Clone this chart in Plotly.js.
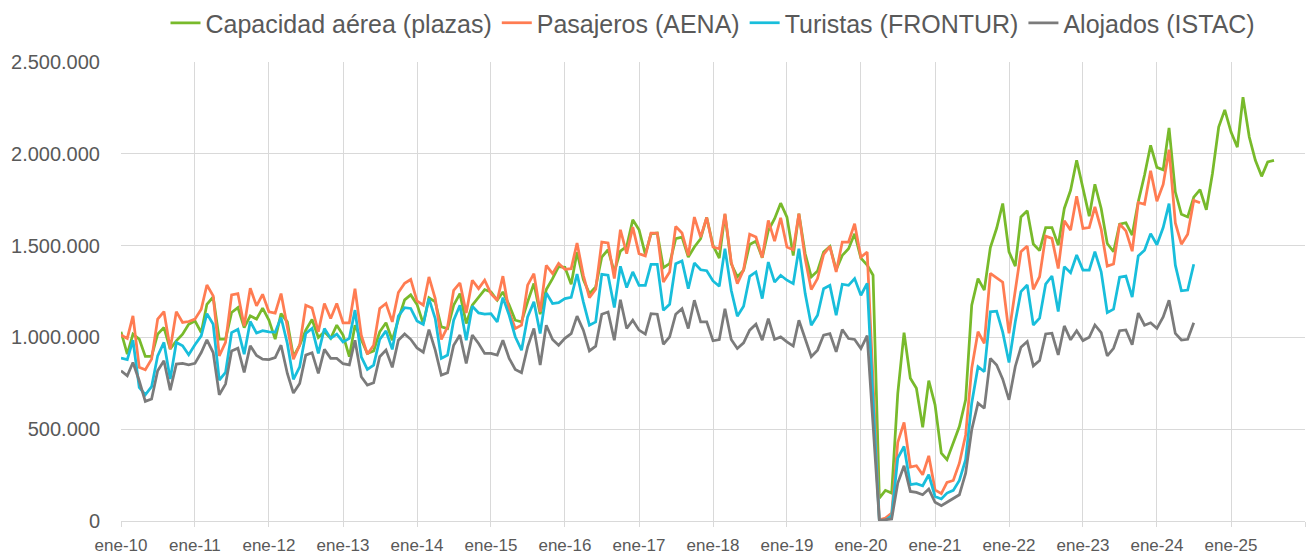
<!DOCTYPE html>
<html>
<head>
<meta charset="utf-8">
<script src="https://cdn.plot.ly/plotly-3.0.1.min.js"></script>
<style>
html,body{margin:0;padding:0;background:#fff;}
#chart{width:1306px;height:555px;}
</style>
</head>
<body>
<div id="chart"></div>
<script>
// Values in thousands (miles), monthly from ene-2010
const UNIT = 1000;
const startYear = 2010;

const seriesNames = ["Capacidad aérea (plazas)", "Pasajeros (AENA)", "Turistas (FRONTUR)", "Alojados (ISTAC)"];

const capacidad = [
  1031, 909, 1018, 991, 897, 897, 1018, 1054, 937, 982, 1018, 1072,
  1090, 1027, 1181, 1221, 991, 991, 1136, 1163, 1054, 1118, 1100, 1160,
  1095, 991, 1130, 1085, 895, 958, 1040, 1098, 1000, 1031, 995, 1067,
  1013, 895, 1067, 985, 913, 927, 1031, 1080, 985, 1098, 1205, 1232,
  1180, 1075, 1217, 1194, 1058, 1049, 1176, 1239, 1076, 1176, 1221, 1261,
  1248, 1203, 1248, 1176, 1094, 1085, 1194, 1294, 1127, 1261, 1321, 1386,
  1382, 1290, 1465, 1315, 1239, 1275, 1438, 1478, 1357, 1471, 1496, 1641,
  1587, 1453, 1565, 1569, 1380, 1402, 1538, 1547, 1438, 1493, 1538, 1654,
  1502, 1432, 1670, 1402, 1330, 1366, 1507, 1525, 1435, 1583, 1647, 1732,
  1656, 1447, 1674, 1456, 1330, 1362, 1466, 1496, 1369, 1447, 1484, 1565,
  1432, 1394, 1339, 125, 167, 152, 696, 1026, 778, 723, 511, 765,
  633, 370, 334, 424, 515, 660, 1176, 1321, 1258, 1490, 1595, 1730,
  1467, 1389, 1657, 1690, 1509, 1473, 1599, 1599, 1503, 1703, 1802, 1966,
  1821, 1661, 1835, 1703, 1512, 1467, 1618, 1625, 1558, 1740, 1885, 2047,
  1927, 1914, 2142, 1792, 1671, 1657, 1765, 1805, 1696, 1892, 2146, 2240,
  2119, 2037, 2309, 2092, 1965, 1878, 1956, 1965
];

const pasajeros = [
  1013, 995, 1118, 837, 824, 882, 1100, 1141, 937, 1141, 1082, 1087,
  1100, 1154, 1286, 1227, 900, 973, 1232, 1239, 1063, 1268, 1172, 1235,
  1140, 1133, 1239, 1058, 882, 958, 1176, 1161, 1031, 1185, 1103, 1185,
  1080, 1080, 1266, 1013, 909, 958, 1158, 1185, 1085, 1245, 1295, 1316,
  1199, 1176, 1330, 1212, 989, 1058, 1257, 1297, 1134, 1312, 1266, 1312,
  1239, 1203, 1334, 1140, 1049, 1067, 1285, 1348, 1140, 1393, 1348, 1404,
  1371, 1375, 1515, 1339, 1217, 1263, 1520, 1515, 1321, 1587, 1457, 1601,
  1457, 1444, 1569, 1569, 1302, 1357, 1605, 1569, 1447, 1656, 1547, 1654,
  1493, 1483, 1674, 1411, 1293, 1369, 1562, 1547, 1435, 1638, 1525, 1652,
  1493, 1478, 1674, 1429, 1261, 1321, 1453, 1496, 1357, 1520, 1520, 1620,
  1437, 1466, 750, 7, 16, 43, 428, 537, 294, 301, 252, 355,
  170, 149, 210, 221, 315, 469, 832, 1031, 968, 1349, 1325, 1301,
  1023, 1250, 1467, 1498, 1262, 1331, 1552, 1540, 1376, 1636, 1585, 1770,
  1594, 1599, 1712, 1589, 1389, 1400, 1618, 1581, 1470, 1736, 1726, 1908,
  1742, 1834, 2023, 1624, 1508, 1562, 1747, 1734
];

const turistas = [
  888, 879, 985, 728, 688, 732, 900, 973, 773, 973, 955, 906,
  960, 1009, 1130, 1072, 768, 810, 1027, 1045, 909, 1087, 1024, 1037,
  1030, 1029, 1109, 967, 772, 840, 1022, 1049, 913, 1049, 995, 1018,
  976, 995, 1149, 895, 826, 849, 989, 1036, 935, 1116, 1162, 1158,
  1090, 1071, 1212, 1103, 886, 904, 1094, 1176, 985, 1170, 1134, 1127,
  1130, 1085, 1217, 1121, 1004, 931, 1112, 1194, 1022, 1243, 1185, 1190,
  1212, 1219, 1346, 1194, 1067, 1085, 1344, 1339, 1163, 1388, 1272, 1357,
  1284, 1284, 1398, 1398, 1148, 1181, 1402, 1417, 1266, 1406, 1369, 1364,
  1308, 1279, 1484, 1257, 1116, 1170, 1333, 1357, 1212, 1411, 1302, 1339,
  1312, 1293, 1484, 1239, 1067, 1121, 1266, 1284, 1121, 1290, 1284, 1321,
  1230, 1295, 660, 0, 4, 29, 343, 406, 198, 203, 192, 252,
  134, 120, 152, 167, 221, 334, 642, 841, 814, 1140, 1143, 1029,
  864, 1086, 1250, 1286, 1068, 1105, 1291, 1335, 1141, 1386, 1353, 1449,
  1367, 1367, 1467, 1358, 1135, 1154, 1328, 1335, 1220, 1444, 1475, 1566,
  1505, 1599, 1729, 1394, 1254, 1258, 1399
];

const alojados = [
  819, 791, 864, 764, 652, 665, 819, 873, 713, 855, 859, 851,
  859, 918, 987, 918, 688, 746, 927, 942, 810, 955, 902, 882,
  879, 890, 958, 804, 697, 749, 904, 917, 804, 935, 886, 886,
  857, 851, 985, 786, 741, 753, 895, 931, 837, 985, 1019, 990,
  943, 920, 1043, 931, 795, 808, 958, 1013, 859, 1013, 967, 913,
  913, 904, 985, 886, 826, 808, 949, 1049, 850, 1067, 989, 958,
  995, 1021, 1116, 1040, 927, 953, 1127, 1139, 985, 1206, 1049, 1094,
  1040, 1018, 1130, 1127, 963, 1003, 1127, 1157, 1049, 1203, 1085, 1085,
  982, 989, 1157, 989, 940, 971, 1040, 1072, 985, 1103, 989, 1003,
  976, 953, 1094, 989, 895, 931, 1013, 1021, 922, 1043, 994, 989,
  940, 1010, 515, 4, 7, 11, 207, 301, 161, 156, 143, 174,
  102, 83, 102, 125, 143, 261, 497, 642, 614, 886, 850, 773,
  660, 842, 947, 978, 845, 874, 1019, 1023, 905, 1063, 987, 1037,
  983, 1001, 1068, 1027, 900, 941, 1037, 1041, 960, 1133, 1067, 1080,
  1050, 1112, 1203, 1022, 986, 990, 1080
];

const tickLabels = ["ene-10","ene-11","ene-12","ene-13","ene-14","ene-15","ene-16","ene-17",
                    "ene-18","ene-19","ene-20","ene-21","ene-22","ene-23","ene-24","ene-25",""];
const yTickVals = [0, 500000, 1000000, 1500000, 2000000, 2500000];

const colors = ["#78BA2B", "#FF7C52", "#18BEDB", "#7B7B7B"];

function monthDate(i) {
  const y = startYear + Math.floor(i / 12);
  const m = (i % 12) + 1;
  return y + "-" + (m < 10 ? "0" + m : m) + "-01";
}

const all = [capacidad, pasajeros, turistas, alojados];
const traces = all.map((arr, k) => ({
  type: "scatter",
  mode: "lines",
  name: seriesNames[k],
  x: arr.map((_, i) => monthDate(i)),
  y: arr.map(v => v * UNIT),
  line: {color: colors[k], width: 2.75},
  hoverinfo: "skip"
}));

const tickVals = tickLabels.map((_, i) => (startYear + i) + "-01-01");

const FONT = "Liberation Sans, Arial, sans-serif";

const layout = {
  width: 1306,
  height: 555,
  margin: {l: 121, r: 1, t: 61, b: 34, pad: 0},
  paper_bgcolor: "#ffffff",
  plot_bgcolor: "#ffffff",
  separators: ",.",
  font: {family: FONT, color: "#595959"},
  showlegend: true,
  legend: {
    orientation: "h",
    x: 0.5, xanchor: "center",
    y: 1.083, yanchor: "middle",
    font: {family: FONT, size: 25, color: "#595959"},
    itemwidth: 30,
    bgcolor: "rgba(0,0,0,0)"
  },
  xaxis: {
    type: "date",
    range: ["2010-01-01", "2026-01-01"],
    tickmode: "array",
    tickvals: tickVals,
    ticktext: tickLabels,
    showgrid: true,
    gridcolor: "#d9d9d9",
    gridwidth: 1,
    showline: true,
    linecolor: "#d9d9d9",
    linewidth: 1,
    ticks: "outside",
    ticklen: 5,
    tickcolor: "#d9d9d9",
    tickfont: {family: FONT, size: 17, color: "#595959"},
    ticklabelstandoff: 4,
    zeroline: false,
    fixedrange: true
  },
  yaxis: {
    range: [0, 2501000],
    tickmode: "array",
    tickvals: yTickVals,
    tickformat: ",d",
    showgrid: true,
    gridcolor: "#d9d9d9",
    gridwidth: 1,
    zeroline: false,
    showline: false,
    ticks: "",
    tickfont: {family: FONT, size: 20, color: "#595959"},
    ticklabelstandoff: 20,
    fixedrange: true
  }
};

Plotly.newPlot("chart", traces, layout, {staticPlot: true, displayModeBar: false});
</script>
</body>
</html>
